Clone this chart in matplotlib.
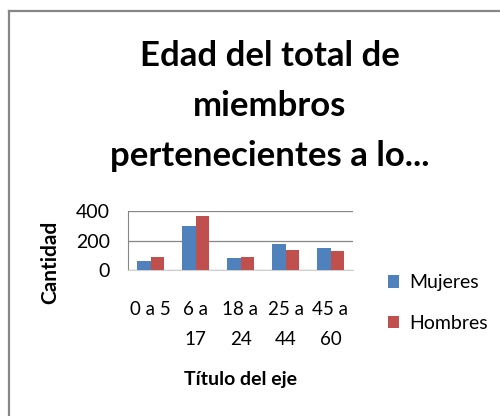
import matplotlib.pyplot as plt
import numpy as np

plt.rcParams["font.family"] = ["Lato", "DejaVu Sans"]

categorias = ["0 a 5", "6 a\n17", "18 a\n24", "25 a\n44", "45 a\n60"]
mujeres = [62, 300, 82, 177, 152]
hombres = [90, 365, 88, 136, 130]
series_labels = ["Mujeres", "Hombres"]
colores = ["#4F81BD", "#C0504D"]

W, H = 500, 416
fig = plt.figure(figsize=(W / 100, H / 100), dpi=100)

# chart frame (only top/left visible in the reference)
fig.add_artist(plt.Line2D([9 / W, 9 / W], [0, 1 - 11 / H], color="#868686", lw=1.6))
fig.add_artist(plt.Line2D([9 / W, 1], [1 - 11 / H, 1 - 11 / H], color="#868686", lw=1.6))

fig.text(270 / W, 1 - 106 / H, "Edad del total de\nmiembros\npertenecientes a lo...",
         ha="center", va="center", fontsize=25, fontweight="bold", linespacing=1.68)

ax = fig.add_axes([128 / W, 1 - 270 / H, (353 - 128) / W, (270 - 211) / H])
x = np.arange(len(categorias))
bw = 0.29
ax.bar(x - bw / 2, mujeres, bw, color=colores[0], label=series_labels[0], zorder=3)
ax.bar(x + bw / 2, hombres, bw, color=colores[1], label=series_labels[1], zorder=3)

ax.set_xlim(-0.5, len(categorias) - 0.5)
ax.set_ylim(0, 400)
ax.set_yticks([0, 200, 400])
ax.yaxis.grid(True, color="#868686", lw=0.9, zorder=0)
for s in ["top", "right"]:
    ax.spines[s].set_visible(False)
ax.spines["left"].set_color("#868686")
ax.spines["bottom"].set_color("#d0d0d0")
ax.tick_params(axis="y", length=0, labelsize=14, pad=13)
ax.tick_params(axis="x", length=0, labelsize=13.5, pad=22)
ax.set_xticks(x)
ax.set_xticklabels(categorias, linespacing=1.95)
for t in ax.get_xticklabels():
    t.set_va("top")

ax.set_ylabel("Cantidad", fontsize=15, fontweight="bold")
ax.yaxis.set_label_coords((60 - 128) / (353 - 128), (270 - 262) / (270 - 211))
fig.text(241 / W, 1 - 380 / H, "Título del eje", ha="center", va="center",
         fontsize=14, fontweight="bold")

ax.legend(loc="center left", bbox_to_anchor=(370 / W, 1 - 303 / H),
          bbox_transform=fig.transFigure, frameon=False, fontsize=14,
          handlelength=0.6, handleheight=0.6, handletextpad=0.5, labelspacing=1.2)

fig.savefig("out.png", dpi=100)
